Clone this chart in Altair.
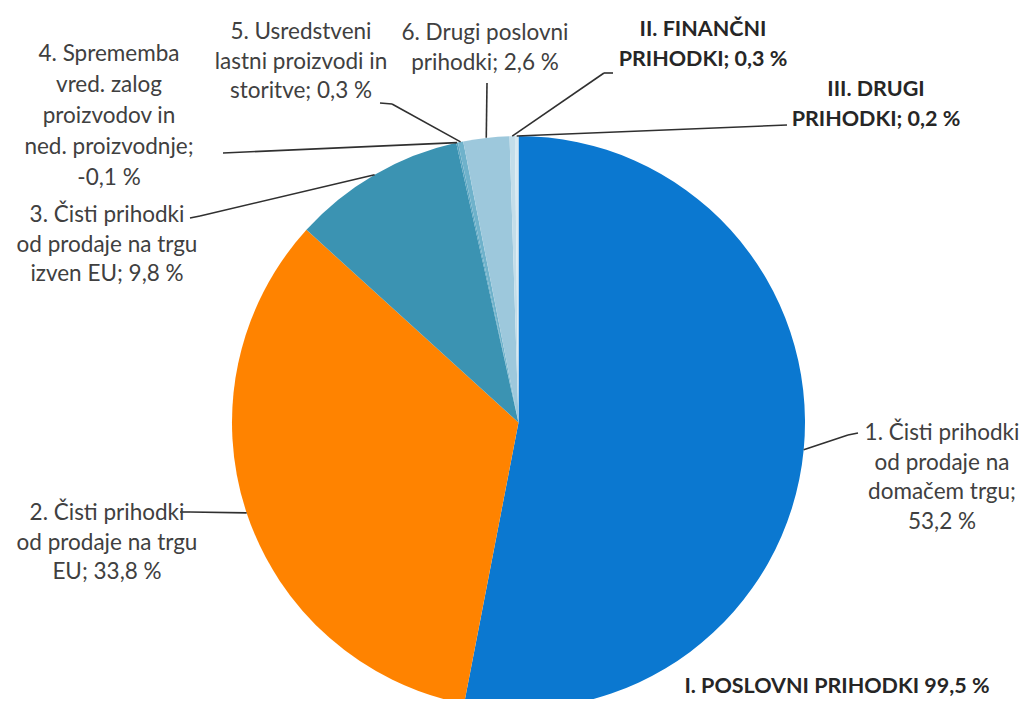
import altair as alt
import pandas as pd

# ---- data ----
labels = [
    "1. Čisti prihodki\nod prodaje na\ndomačem trgu;\n53,2 %",
    "2. Čisti prihodki\nod prodaje na trgu\nEU; 33,8 %",
    "3. Čisti prihodki\nod prodaje na trgu\nizven EU; 9,8 %",
    "4. Sprememba\nvred. zalog\nproizvodov in\nned. proizvodnje;\n-0,1 %",
    "5. Usredstveni\nlastni proizvodi in\nstoritve; 0,3 %",
    "6. Drugi poslovni\nprihodki; 2,6 %",
    "II. FINANČNI\nPRIHODKI; 0,3 %",
    "III. DRUGI\nPRIHODKI; 0,2 %",
]
values = [53.2, 33.8, 9.8, -0.1, 0.3, 2.6, 0.3, 0.2]
bold = [False, False, False, False, False, False, True, True]
group_label = ["I. POSLOVNI PRIHODKI 99,5 %"]

# ---- styling / layout (pixel positions of annotations) ----
colors = ["#0b78d0", "#ff8300", "#3b93b2", "#5aa5c1", "#6fb2cb", "#9dc8dc", "#c3dde9", "#d8e9f1"]
CX, CY, R = 510.5, 414.5, 286.5
# y = centre of the first text line
label_x = [934, 99, 99, 101, 293, 477, 695, 868]
label_y = [425, 505, 207, 46, 24, 25, 22, 82]
label_lh = [29.5, 29.5, 29.5, 31, 29.5, 29.5, 29.5, 29.5]
attach_x = [850, 172, 182, 215, 372, 479, 605, 779]
attach_y = [425, 504, 210, 145, 95, 75, 65, 117]
elbow_x = [840, 182, 192, 215, 384, 479, 596, 779]
elbow_y = [427, 504, 208, 145, 96, 75, 65, 117]
group_x = [829]
group_y = [679]

df = pd.DataFrame({
    "idx": list(range(len(values))),
    "label": labels,
    "value": values,
    "bold": bold,
    "lx": label_x, "ly": label_y, "lh": label_lh,
    "ax": attach_x, "ay": attach_y,
    "bx": elbow_x, "by": elbow_y,
})

base = alt.Chart(df).transform_calculate(
    absval="abs(datum.value)"
).transform_joinaggregate(
    total="sum(absval)"
).transform_window(
    cum="sum(absval)", sort=[alt.SortField("idx")], frame=[None, 0]
).transform_calculate(
    mid="2*PI*(datum.cum - datum.absval/2)/datum.total"
).transform_calculate(
    ex=f"{CX} + {R}*sin(datum.mid)",
    ey=f"{CY} - {R}*cos(datum.mid)",
)

pie = base.mark_arc(outerRadius=R).encode(
    theta=alt.Theta("absval:Q", stack=True),
    order=alt.Order("idx:O"),
    color=alt.Color("label:N", scale=alt.Scale(domain=labels, range=colors), legend=None),
    x=alt.value(CX),
    y=alt.value(CY),
)

seg1 = base.mark_rule(color="#303030", strokeWidth=1.6).encode(
    x=alt.X("ex:Q", scale=None, axis=None),
    y=alt.Y("ey:Q", scale=None, axis=None),
    x2="bx:Q",
    y2="by:Q",
)
seg2 = base.mark_rule(color="#303030", strokeWidth=1.6).encode(
    x=alt.X("bx:Q", scale=None, axis=None),
    y=alt.Y("by:Q", scale=None, axis=None),
    x2="ax:Q",
    y2="ay:Q",
)

txt_normal = base.transform_filter("!datum.bold && datum.idx != 3").mark_text(
    font="Lato", fontSize=22.5, color="#404040", lineBreak="\n", lineHeight=29.5,
    align="center", baseline="middle",
).encode(
    x=alt.X("lx:Q", scale=None, axis=None),
    y=alt.Y("ly:Q", scale=None, axis=None),
    text="label:N",
)
txt_four = base.transform_filter("datum.idx == 3").mark_text(
    font="Lato", fontSize=22.5, color="#404040", lineBreak="\n", lineHeight=31,
    align="center", baseline="middle",
).encode(
    x=alt.X("lx:Q", scale=None, axis=None),
    y=alt.Y("ly:Q", scale=None, axis=None),
    text="label:N",
)
txt_bold = base.transform_filter("datum.bold").mark_text(
    font="Lato", fontSize=21.5, fontWeight="bold", color="#262626", lineBreak="\n", lineHeight=29.5,
    align="center", baseline="middle",
).encode(
    x=alt.X("lx:Q", scale=None, axis=None),
    y=alt.Y("ly:Q", scale=None, axis=None),
    text="label:N",
)

gdf = pd.DataFrame({"t": group_label, "gx": group_x, "gy": group_y})
grp = alt.Chart(gdf).mark_text(
    font="Lato", fontSize=21.5, fontWeight="bold", color="#262626", align="center", baseline="middle"
).encode(
    x=alt.X("gx:Q", scale=None, axis=None),
    y=alt.Y("gy:Q", scale=None, axis=None),
    text="t:N",
)

chart = alt.layer(pie, seg1, seg2, txt_normal, txt_four, txt_bold, grp).properties(
    width=1011, height=691, padding=0,
    autosize=alt.AutoSizeParams(type="none"),
    background="white",
).configure_view(stroke=None)

chart.save("out.html", embed_options={"renderer": "svg", "actions": False})
